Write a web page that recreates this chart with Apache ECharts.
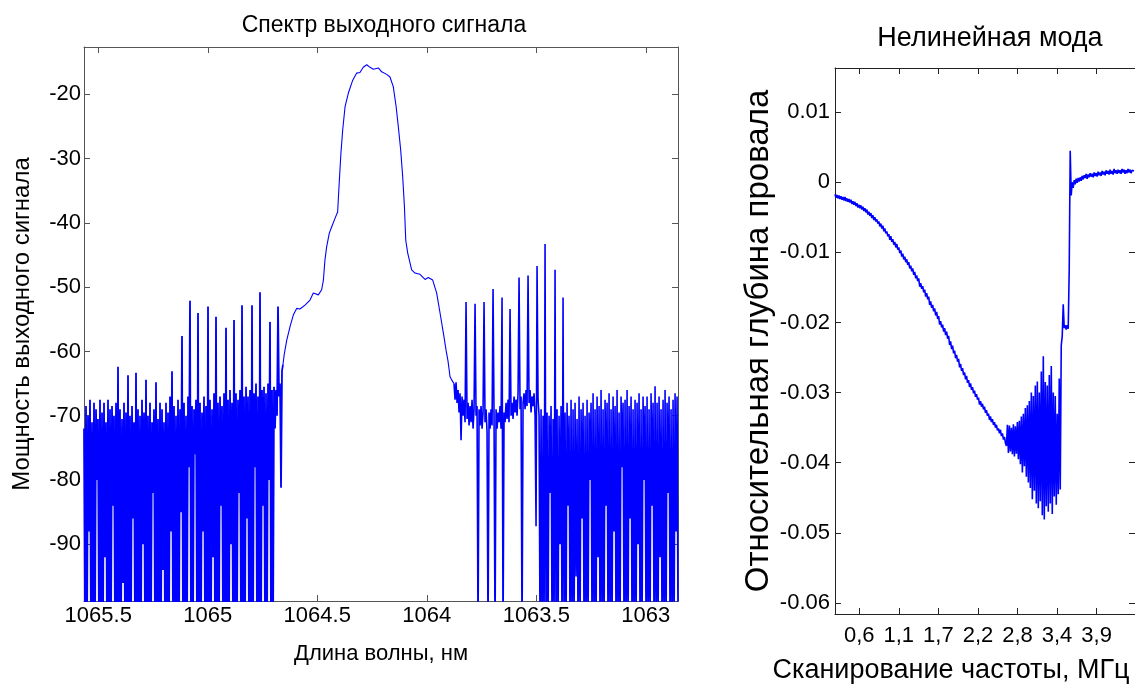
<!DOCTYPE html>
<html><head><meta charset="utf-8">
<script src="https://cdn.jsdelivr.net/npm/echarts@6/dist/echarts.min.js"></script>
<style>html,body{margin:0;padding:0;background:#fff}#c{width:1135px;height:690px}</style>
</head><body><div id="c"></div>
<script>
// ---------- Left panel: spectrum of the output signal ----------
const specTicks = [1063, 1063.5, 1064, 1064.5, 1065, 1065.5];
const powerTicks = [-90, -80, -70, -60, -50, -40, -30, -20];
const specStep = 0.004566;            // OSA sampling step, nm
const specNoiseLeftStart = 1065.565;  // nm
const specNoiseRightStart = 1063.8755;// nm

const specNoiseLeft = [
-72,-105, -68.5,-105, -70,-88, -67.5,-105, -71,-105, -68,-105, -69,-80, -70.5,-105, -67.5,-105, -69.5,-105,
-68,-92, -71,-105, -67.5,-105, -69,-105, -68.5,-84, -70,-105, -68,-105, -62.4,-105, -69,-105, -70.5,-96,
-68,-105, -69.5,-105, -63.7,-105, -70,-105, -68.5,-86, -71,-105, -63.3,-105, -69,-105, -70,-105, -67.5,-90,
-69.5,-105, -64.4,-105, -70,-105, -68,-105, -71,-82, -69,-105, -64.8,-105, -70.5,-105, -68,-105, -69,-94,
-71,-105, -68,-105, -69.5,-105, -67,-88, -63.1,-105, -68.5,-105, -70,-105, -67.5,-105, -69,-85, -57.6,-105,
-68,-105, -70,-105, -67,-78, -52.1,-105, -68.5,-105, -69,-76, -67.5,-105, -54,-105, -68,-105, -69.5,-88,
-67,-105, -68.5,-105, -53,-105, -67.5,-105, -69,-92, -66.5,-105, -54.6,-105, -68,-105, -67,-84, -68.5,-105,
-66.5,-105, -56.3,-105, -67.5,-105, -66,-90, -68,-105, -55.1,-105, -66.5,-105, -67.5,-82, -66,-105, -52.8,-105,
-67,-105, -65.5,-86, -67,-105, -66,-105, -52.8,-105, -66.5,-78, -65,-105, -67,-105, -50.8,-105, -66,-84,
-65.5,-105, -66.5,-105, -65,-80, -55.4,-105, -66,-105, -65.5,-72, -66,-70, -53,-67, -65,-81.2, -63,-62
];

const peakWl = [1064.651,1064.639,1064.624,1064.609,1064.594,1064.579,1064.556,1064.533,1064.518,1064.495,
1064.480,1064.472,1064.465,1064.457,1064.445,1064.434,1064.419,1064.407,1064.399,1064.392,
1064.384,1064.373,1064.358,1064.338,1064.320,1064.305,1064.290,1064.274,1064.259,1064.244,
1064.221,1064.206,1064.183,1064.168,1064.153,1064.140,1064.130,1064.119,1064.110,1064.102,
1064.096,1064.087,1064.069,1064.054,1064.031,1064.008,1063.993,1063.973,1063.955,1063.939,
1063.924,1063.912,1063.903,1063.894,1063.885];
const peakPow = [-60.5,-58.2,-56.1,-54.3,-53.3,-53.4,-52.8,-52.0,-50.9,-51.2,
-50.4,-48.9,-45.8,-43.7,-41.6,-40.6,-39.3,-38.3,-33.3,-29.2,
-25.6,-21.9,-19.8,-17.8,-16.7,-16.6,-15.8,-15.4,-15.8,-16.1,
-15.9,-16.5,-16.9,-17.3,-18.8,-21.9,-25.0,-28.7,-32.8,-37.5,
-42.7,-44.7,-47.3,-47.8,-48.0,-48.8,-48.5,-48.9,-50.9,-54.1,
-57.2,-59.8,-61.5,-63.9,-64.5];

const specNoiseRight = [
-65,-67.5,-64.8,-68,-66,-69.5,-66.5,-73.8,-67,-70,
-67.5,-71,-52.3,-70.5,-68,-71.5,-68.5,-71,-67.5,-72,
-69,-52.6,-70,-68.5,-105,-69,-71.5,-68.5,-72,-69.5,
-52.3,-71,-69,-72.5,-105,-69.5,-72,-69,-71.5,-50.3,
-70.5,-105,-69,-72,-69.5,-71,-68.5,-72,-51.6,-105,
-69.5,-71,-68,-70.5,-67.5,-71,-53.4,-70,-68,-70.5,
-67,-69.5,-67.5,-70,-66.5,-48.5,-69,-67,-105,-68,
-66.5,-69,-66,-68.5,-48.2,-68,-66,-69.5,-67,-68.5,
-66.5,-70,-87.2,-46.7,-67.5,-70,-105,
-69,-105, -70,-105, -43.3,-105, -69.5,-105, -70,-82, -68.5,-105, -70.5,-105, -47.3,-105, -69,-105, -70,-90,
-68.5,-105, -51.6,-105, -69.5,-105, -68,-84, -70,-105, -67.5,-105, -69,-105, -68,-95, -70.5,-105, -67,-105,
-69,-86, -68,-105, -70,-105, -67.5,-105, -69.5,-80, -68,-105, -66.5,-105, -69,-105, -67,-92, -68.5,-105,
-66,-105, -69,-105, -67.5,-84, -68,-105, -66.5,-105, -69,-105, -67,-88, -68.5,-105, -66,-105, -69.5,-105,
-67,-78, -68,-105, -67.5,-105, -66,-105, -68.5,-86, -67,-105, -69,-105, -67.5,-105, -68,-90, -66.5,-105,
-69,-105, -67,-80, -68.5,-105, -67,-105, -69,-105, -66.5,-84, -68,-105, -65.4,-105, -68,-105, -67,-92,
-69,-105, -67.5,-105, -66,-105, -68,-82, -67,-105, -69,-105, -67.5,-105, -66.5,-88, -67,-105
];

// ---------- Right panel: nonlinear mode ----------
const modeTickValues = [0.56, 1.12, 1.68, 2.24, 2.8, 3.36, 3.92];
const modeTickLabels = ['0,6', '1,1', '1,7', '2,2', '2,8', '3,4', '3,9'];
const depthTicks = [-0.06, -0.05, -0.04, -0.03, -0.02, -0.01, 0, 0.01];
const modeStart = 0.217;   // MHz
const modeStep = 0.014106; // MHz

const modeDepth = [
-0.0017,-0.0022,-0.0018,-0.0023,-0.0019,
-0.0024,-0.0020,-0.0025,-0.0021,-0.0026,
-0.0021,-0.0027,-0.0023,-0.0028,-0.0024,
-0.0029,-0.0025,-0.0031,-0.0027,-0.0032,
-0.0028,-0.0034,-0.0030,-0.0036,-0.0032,
-0.0037,-0.0033,-0.0039,-0.0035,-0.0041,
-0.0037,-0.0043,-0.0039,-0.0046,-0.0042,
-0.0048,-0.0044,-0.0051,-0.0047,-0.0054,
-0.0050,-0.0056,-0.0053,-0.0059,-0.0056,
-0.0063,-0.0059,-0.0066,-0.0062,-0.0070,
-0.0066,-0.0073,-0.0070,-0.0077,-0.0074,
-0.0082,-0.0077,-0.0085,-0.0081,-0.0089,
-0.0085,-0.0093,-0.0088,-0.0096,-0.0093,
-0.0101,-0.0097,-0.0106,-0.0102,-0.0110,
-0.0106,-0.0114,-0.0110,-0.0118,-0.0114,
-0.0123,-0.0119,-0.0127,-0.0123,-0.0132,
-0.0128,-0.0137,-0.0133,-0.0141,-0.0137,
-0.0149,-0.0144,-0.0152,-0.0148,-0.0157,
-0.0153,-0.0163,-0.0158,-0.0167,-0.0163,
-0.0175,-0.0170,-0.0179,-0.0175,-0.0184,
-0.0180,-0.0190,-0.0185,-0.0195,-0.0191,
-0.0203,-0.0198,-0.0207,-0.0203,-0.0213,
-0.0208,-0.0218,-0.0213,-0.0223,-0.0219,
-0.0232,-0.0227,-0.0238,-0.0233,-0.0244,
-0.0240,-0.0251,-0.0246,-0.0256,-0.0252,
-0.0264,-0.0259,-0.0269,-0.0265,-0.0275,
-0.0271,-0.0281,-0.0276,-0.0286,-0.0282,
-0.0292,-0.0287,-0.0296,-0.0292,-0.0301,
-0.0297,-0.0306,-0.0302,-0.0310,-0.0307,
-0.0317,-0.0312,-0.0320,-0.0316,-0.0324,
-0.0320,-0.0329,-0.0325,-0.0333,-0.0330,
-0.0339,-0.0334,-0.0342,-0.0338,-0.0346,
-0.0342,-0.0350,-0.0346,-0.0354,-0.0351,
-0.0358,-0.0353,-0.0362,-0.0358,-0.0367,
-0.0363,-0.0372,-0.0376,
-0.0346,-0.0386,-0.0347,-0.0384,-0.0350,-0.0388,-0.0345,-0.0391,-0.0348,-0.0387,
-0.0342,-0.0395,-0.0340,-0.0402,-0.0334,-0.0414,-0.0330,-0.0405,-0.0322,-0.0420,
-0.0318,-0.0428,-0.0312,-0.0436,-0.0300,-0.0452,-0.0305,-0.0440,-0.0290,-0.0458,
-0.0284,-0.0465,-0.0300,-0.0455,-0.0270,-0.0475,-0.0248,-0.0481,-0.0285,-0.0462,
-0.0290,-0.0470,-0.0275,-0.0458,-0.0262,-0.0473,-0.0300,-0.0448,-0.0305,-0.0460,
-0.0330,-0.0445,-0.0280,-0.0438,-0.0233,-0.0219,-0.0174,-0.0208,-0.0204,-0.0210,
-0.0204,-0.0209,-0.0124,0.0045,
-0.0019,0.0000,-0.0008,0.0003,-0.0003,0.0005,-0.0001,0.0006,0.0001,0.0007,
0.0002,0.0009,0.0004,0.0010,0.0006,0.0012,0.0005,0.0011,0.0007,0.0013,
0.0008,0.0012,0.0007,0.0014,0.0009,0.0013,0.0008,0.0015,0.0010,0.0014,
0.0009,0.0016,0.0011,0.0015,0.0010,0.0017,0.0012,0.0016,0.0011,0.0018,
0.0012,0.0016,0.0011,0.0019,0.0013,0.0017,0.0012,0.0018,0.0013,0.0017,
0.0012,0.0019,0.0014,0.0018,0.0012,0.0017,0.0013,0.0019,0.0014,0.0018,
0.0013,0.0017,0.0015,0.0016
];

// ---------- build series data ----------
const noiseLeftData = specNoiseLeft.map((v, i) => [specNoiseLeftStart - i * specStep, v]);
const noiseRightData = specNoiseRight.map((v, i) => [specNoiseRightStart - i * specStep, v]);
const peakData = [noiseLeftData[noiseLeftData.length - 1]]
  .concat(peakWl.map((w, i) => [w, peakPow[i]]))
  .concat([noiseRightData[0]]);
const modeData = modeDepth.map((v, i) => [modeStart + i * modeStep, v]);

const LF = "'Liberation Sans', Arial, sans-serif";
const lineCol = '#555';
const lineCol2 = '#222';
const plain = v => String(v);

function mirrorX(grid, min, max, inverse, ticks, col) {
  return { gridIndex: grid, type: 'value', position: 'top', min, max, inverse,
    axisLine: { show: true, onZero: false, lineStyle: { color: col, width: 1 } },
    axisTick: { show: true, inside: true, length: 6, customValues: ticks, lineStyle: { color: col } },
    axisLabel: { show: false }, splitLine: { show: false } };
}
function mirrorY(grid, min, max, ticks, col) {
  return { gridIndex: grid, type: 'value', position: 'right', min, max,
    axisLine: { show: true, onZero: false, lineStyle: { color: col, width: 1 } },
    axisTick: { show: true, inside: true, length: 6, customValues: ticks, lineStyle: { color: col } },
    axisLabel: { show: false }, splitLine: { show: false } };
}
function trace(x, y, data, w) {
  return { type: 'line', xAxisIndex: x, yAxisIndex: y, data, showSymbol: false, symbol: 'none',
    lineStyle: { color: '#0000ff', width: w }, silent: true, clip: true };
}

const chart = echarts.init(document.getElementById('c'), null, { renderer: 'canvas' });
chart.setOption({
  animation: false,
  backgroundColor: '#fff',
  title: [
    { text: 'Спектр выходного сигнала', left: 379, top: 9, textAlign: 'center',
      textStyle: { fontSize: 23, fontWeight: 'normal', color: '#000', fontFamily: LF } },
    { text: 'Нелинейная мода', left: 985, top: 20, textAlign: 'center',
      textStyle: { fontSize: 27, fontWeight: 'normal', color: '#000', fontFamily: LF } }
  ],
  grid: [
    { left: 84, top: 47, width: 594, height: 554, containLabel: false },
    { left: 835, top: 68, width: 301, height: 546, containLabel: false }
  ],
  xAxis: [
    { gridIndex: 0, type: 'value', position: 'bottom', min: 1062.853, max: 1065.565, inverse: true,
      axisLine: { show: true, onZero: false, lineStyle: { color: lineCol, width: 1 } },
      axisTick: { show: true, inside: true, length: 6, customValues: specTicks, lineStyle: { color: lineCol } },
      axisLabel: { customValues: specTicks, margin: 4, fontSize: 22, color: '#000', fontFamily: LF, formatter: plain },
      splitLine: { show: false },
      name: 'Длина волны, нм', nameLocation: 'middle', nameGap: 42,
      nameTextStyle: { fontSize: 22, color: '#000', fontFamily: LF } },
    mirrorX(0, 1062.853, 1065.565, true, specTicks, lineCol),
    { gridIndex: 1, type: 'value', position: 'bottom', min: 0.217, max: 4.463,
      axisLine: { show: true, onZero: false, lineStyle: { color: lineCol2, width: 1 } },
      axisTick: { show: true, inside: true, length: 6, customValues: modeTickValues, lineStyle: { color: lineCol2 } },
      axisLabel: { customValues: modeTickValues, margin: 11, fontSize: 22, color: '#000', fontFamily: LF,
        formatter: v => { const k = modeTickValues.findIndex(t => Math.abs(t - v) < 1e-6); return k >= 0 ? modeTickLabels[k] : ''; } },
      splitLine: { show: false },
      name: 'Сканирование частоты, МГц', nameLocation: 'middle', nameGap: 43,
      nameTextStyle: { fontSize: 27, color: '#000', fontFamily: LF, padding: [0, 68, 0, 0] } },
    mirrorX(1, 0.217, 4.463, false, modeTickValues, lineCol2)
  ],
  yAxis: [
    { gridIndex: 0, type: 'value', position: 'left', min: -98.82, max: -12.64,
      axisLine: { show: true, onZero: false, lineStyle: { color: lineCol, width: 1 } },
      axisTick: { show: true, inside: true, length: 6, customValues: powerTicks, lineStyle: { color: lineCol } },
      axisLabel: { customValues: powerTicks, margin: 3, fontSize: 22, color: '#000', fontFamily: LF, formatter: plain },
      splitLine: { show: false },
      name: 'Мощность выходного сигнала', nameLocation: 'middle', nameGap: 50,
      nameTextStyle: { fontSize: 24, color: '#000', fontFamily: LF } },
    mirrorY(0, -98.82, -12.64, powerTicks, lineCol),
    { gridIndex: 1, type: 'value', position: 'left', min: -0.06157, max: 0.01629,
      axisLine: { show: true, onZero: false, lineStyle: { color: lineCol2, width: 1 } },
      axisTick: { show: true, inside: true, length: 6, customValues: depthTicks, lineStyle: { color: lineCol2 } },
      axisLabel: { customValues: depthTicks, margin: 5, fontSize: 22, color: '#000', fontFamily: LF, formatter: plain },
      splitLine: { show: false },
      name: 'Относительная глубина провала', nameLocation: 'middle', nameGap: 60,
      nameTextStyle: { fontSize: 33, color: '#000', fontFamily: LF } },
    mirrorY(1, -0.06157, 0.01629, depthTicks, lineCol2)
  ],
  series: [
    trace(0, 0, noiseLeftData, 1.8),
    trace(0, 0, peakData, 1.1),
    trace(0, 0, noiseRightData, 1.6),
    trace(2, 2, modeData, 1.6)
  ]
});
</script>
</body></html>
